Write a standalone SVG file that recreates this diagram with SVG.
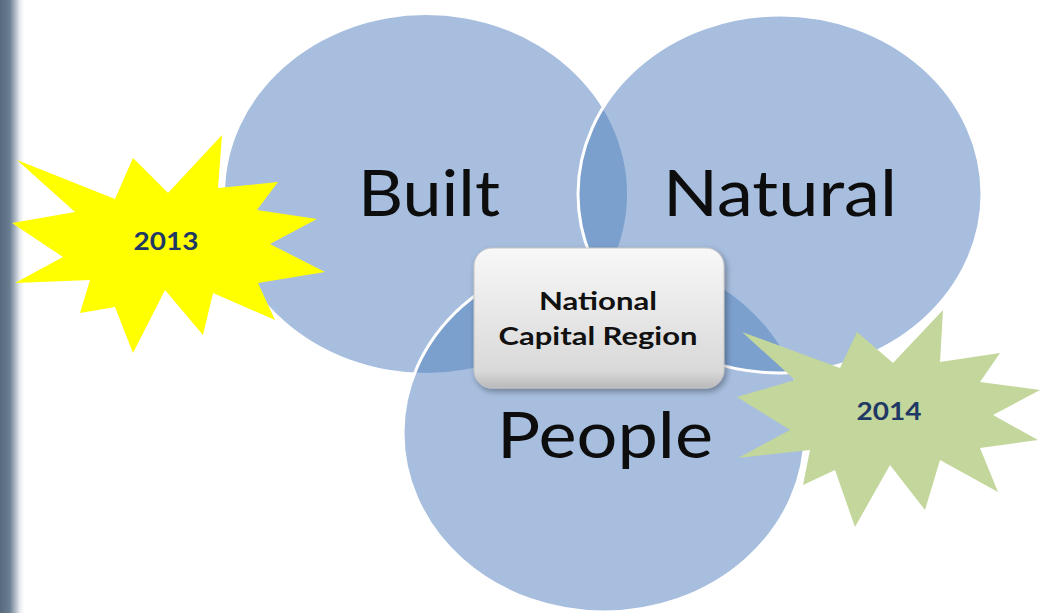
<svg xmlns="http://www.w3.org/2000/svg" width="1040" height="613" viewBox="0 0 1040 613">
<defs>
  <linearGradient id="bar" x1="0" y1="0" x2="1" y2="0">
    <stop offset="0" stop-color="#56697d"/>
    <stop offset="0.4" stop-color="#6a7e92"/>
    <stop offset="0.6" stop-color="#a2afbc"/>
    <stop offset="0.82" stop-color="#e6e9ed"/>
    <stop offset="1" stop-color="#ffffff"/>
  </linearGradient>
  <linearGradient id="boxg" x1="0" y1="0" x2="0" y2="1">
    <stop offset="0" stop-color="#f8f8f8"/>
    <stop offset="0.5" stop-color="#e6e6e6"/>
    <stop offset="0.88" stop-color="#d9d9d9"/>
    <stop offset="1" stop-color="#b9b9b9"/>
  </linearGradient>
  <clipPath id="clipBuilt"><ellipse cx="426" cy="194" rx="201" ry="179"/></clipPath>
  <clipPath id="clipPeople"><ellipse cx="604" cy="433" rx="201" ry="179"/></clipPath>
  <filter id="shadow" x="-10%" y="-10%" width="125%" height="130%">
    <feDropShadow dx="2" dy="3" stdDeviation="3" flood-color="#000" flood-opacity="0.35"/>
  </filter>
</defs>
<style>
  .circ{fill:#a7bedf}
  .lens{fill:#7ba0cd}
  .edge{fill:none;stroke:#ffffff;stroke-width:3}
  .big{font-family:Lato,"Open Sans","Liberation Sans",sans-serif;font-size:64px;fill:#0d0d0d}
  .ncr{font-family:Lato,"Open Sans","Liberation Sans",sans-serif;font-size:25px;font-weight:bold;fill:#111111;text-anchor:middle}
  .year{font-family:Lato,"Open Sans","Liberation Sans",sans-serif;font-size:25px;font-weight:bold;fill:#1f3864;text-anchor:middle}
</style>
<rect x="0" y="0" width="1040" height="613" fill="#ffffff"/>
<rect x="0" y="0" width="24" height="613" fill="url(#bar)"/>

<g id="built">
  <ellipse class="circ" cx="426" cy="194" rx="201" ry="179"/>
  <text class="big" x="358" y="216" textLength="142" lengthAdjust="spacingAndGlyphs">Built</text>
</g>

<g id="people">
  <ellipse class="circ" cx="604" cy="433" rx="201" ry="179"/>
  <ellipse class="lens" cx="604" cy="433" rx="201" ry="179" clip-path="url(#clipBuilt)"/>
  <ellipse class="edge" cx="604" cy="433" rx="201" ry="179"/>
</g>

<g id="natural">
  <ellipse class="circ" cx="780" cy="194" rx="202" ry="179"/>
  <ellipse class="lens" cx="780" cy="194" rx="202" ry="179" clip-path="url(#clipBuilt)"/>
  <ellipse class="lens" cx="780" cy="194" rx="202" ry="179" clip-path="url(#clipPeople)"/>
  <ellipse class="edge" cx="780" cy="194" rx="202" ry="179"/>
  <text class="big" x="663" y="216" textLength="234" lengthAdjust="spacingAndGlyphs">Natural</text>
</g>

<g id="people-label">
  <text class="big" x="497" y="458" textLength="216" lengthAdjust="spacingAndGlyphs">People</text>
</g>

<g id="ncr">
  <rect x="474" y="248" width="250" height="140" rx="18" ry="18" fill="url(#boxg)" stroke="#c4c4c4" stroke-width="1" filter="url(#shadow)"/>
  <text class="ncr" x="598" y="310" textLength="118" lengthAdjust="spacingAndGlyphs">National</text>
  <text class="ncr" x="598" y="345" textLength="199" lengthAdjust="spacingAndGlyphs">Capital Region</text>
</g>

<g id="star2013">
  <polygon fill="#ffff00" points="17,160 115,199 133,158 168,193 222,135 218,188 278,182 257,210 317,219 270,244 325,272 258,283 275,320 213,293 203,335 165,290 133,353 115,307 80,313 90,280 15,283 63,257 12,223 75,212"/>
  <text class="year" x="166" y="250" textLength="65" lengthAdjust="spacingAndGlyphs">2013</text>
</g>

<g id="star2014">
  <polygon fill="#c3d69b" points="742,332 840,368 857,332 893,363 943,310 940,362 1000,353 980,382 1040,390 993,415 1038,440 980,448 998,492 940,460 925,510 890,465 855,527 835,470 803,485 810,450 738,458 790,430 737,397 795,380"/>
  <text class="year" x="889" y="420" textLength="65" lengthAdjust="spacingAndGlyphs">2014</text>
</g>
<g id="connectors"></g>
</svg>
